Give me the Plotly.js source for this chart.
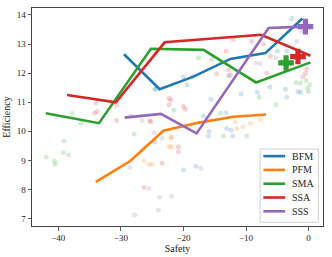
<!DOCTYPE html>
<html>
<head>
<meta charset="utf-8">
<script src="https://cdn.plot.ly/plotly-3.0.1.min.js"></script>
<style>html,body{margin:0;padding:0;background:#fff;}#chart{width:332px;height:257px;}</style>
</head>
<body>
<div id="chart"></div>
<script>
// Series names and colours
const seriesNames = ["BFM", "PFM", "SMA", "SSA", "SSS"];
const seriesColors = ["#1f77b4", "#ff7f0e", "#2ca02c", "#d62728", "#9467bd"];

// Main lines (Safety, Efficiency)
const bfmX = [-29.5, -23.8, -18.4, -12.5, -6.9, -1.0];
const bfmY = [12.65, 11.45, 11.88, 12.49, 12.69, 13.88];
const pfmX = [-34.0, -28.5, -23.2, -17.5, -12.0, -6.8];
const pfmY = [8.26, 8.98, 10.02, 10.3, 10.5, 10.58];
const smaX = [-42.0, -33.5, -25.2, -16.8, -8.4, 0.3];
const smaY = [10.62, 10.28, 12.84, 12.8, 11.68, 12.37];
const ssaX = [-38.6, -30.8, -23.0, -7.6, 0.3];
const ssaY = [11.25, 11.0, 13.06, 13.32, 12.6];
const sssX = [-29.4, -23.6, -17.9, -6.4, -0.5];
const sssY = [10.47, 10.6, 9.93, 13.55, 13.6];

// Plus markers (SMA, SSA, SSS)
const plusNames = ["SMA", "SSA", "SSS"];
const plusX = [-3.6, -1.7, -0.5];
const plusY = [12.35, 12.57, 13.6];

// Faint background samples
const bfmDotX = [-24.6, -24.4, -20.0, -18.5, -19.4, -15.6, -16.8, -13.2, -13.1, -12.4, -12.1, -16.0, -15.9, -10.8, -8.2, -6.2, -3.7, -3.5, -1.7, -1.3, -12.8, -20.0, -18.0, -2.7, -5.0, -3.5];
const bfmDotY = [11.45, 11.45, 11.88, 11.9, 11.6, 11.1, 10.53, 10.64, 10.1, 10.04, 9.84, 9.84, 9.99, 11.28, 11.34, 11.52, 11.45, 11.17, 11.37, 11.34, 11.9, 8.67, 8.8, 13.88, 12.76, 12.76];
const pfmDotX = [-26.3, -25.5, -25.0, -21.9, -22.3, -21.9, -9.3, -7.7, -10.5, -11.7, -11.5, -22.0];
const pfmDotY = [8.98, 8.87, 8.87, 9.79, 9.47, 9.47, 10.28, 10.41, 10.16, 10.33, 10.1, 9.79];
const smaDotX = [-37.8, -36.4, -39.1, -39.2, -38.4, -41.9, -40.6, -40.5, -27.9, -5.2, -7.9, -2.0, -1.3, 0.0, -0.2, -9.9, -14.1, -21.5, -13.6, -17.6, -15.5, -0.4, 0.2];
const smaDotY = [10.61, 10.28, 9.67, 9.26, 9.19, 9.12, 8.97, 8.87, 9.91, 10.91, 11.17, 11.68, 11.66, 11.37, 11.48, 9.84, 10.62, 10.73, 9.84, 12.53, 12.47, 11.75, 11.6];
const ssaDotX = [-34.0, -34.2, -33.8, -30.7, -30.7, -28.4, -25.4, -25.2, -22.3, -22.3, -24.6, -23.4, -26.3, -14.7, -12.8, -12.5, -6.7, -0.5, -0.3, -0.9, -19.7, -20.0, -22.0, -20.8, -20.8, -13.2, -9.1, -12.0, -7.2, -2.9, -6.1];
const ssaDotY = [10.97, 10.62, 10.68, 10.9, 10.37, 10.53, 10.37, 10.33, 11.14, 10.91, 9.64, 8.9, 8.07, 11.98, 12.11, 11.94, 12.0, 12.0, 12.14, 11.88, 10.76, 10.85, 11.08, 9.47, 9.3, 12.76, 13.1, 13.16, 12.99, 12.3, 12.59];
const sssDotX = [-28.6, -26.6, -25.5, -24.7, -23.4, -23.8, -24.0, -27.8, -21.9, -7.7, -17.2, -1.9, -1.06, -5.2, -8.4, -4.3];
const sssDotY = [8.76, 10.37, 8.03, 9.95, 9.76, 7.73, 7.29, 7.12, 7.77, 12.32, 8.72, 13.1, 13.45, 12.53, 12.35, 12.41];

const lineX = [bfmX, pfmX, smaX, ssaX, sssX];
const lineY = [bfmY, pfmY, smaY, ssaY, sssY];
const dotX = [bfmDotX, pfmDotX, smaDotX, ssaDotX, sssDotX];
const dotY = [bfmDotY, pfmDotY, smaDotY, ssaDotY, sssDotY];

const traces = [];
for (let i = 0; i < seriesNames.length; i++) {
  traces.push({
    x: dotX[i], y: dotY[i], type: "scatter", mode: "markers",
    marker: {color: seriesColors[i], size: 5, opacity: 0.2},
    showlegend: false, hoverinfo: "skip"
  });
}
for (let i = 0; i < seriesNames.length; i++) {
  traces.push({
    x: lineX[i], y: lineY[i], type: "scatter", mode: "lines",
    name: seriesNames[i], showlegend: false,
    line: {color: seriesColors[i], width: 2.6}
  });
}
for (let j = 0; j < plusNames.length; j++) {
  const c = seriesColors[seriesNames.indexOf(plusNames[j])];
  traces.push({
    x: [plusX[j]], y: [plusY[j]], type: "scatter", mode: "markers",
    marker: {symbol: "cross", size: 13, color: c, line: {width: 0}},
    showlegend: false
  });
}

// Compact legend (matplotlib-like), built in paper coordinates
const fam = "Liberation Serif, DejaVu Serif, serif";
const shapes = [{
  type: "rect", xref: "paper", yref: "paper",
  x0: 0.784, x1: 0.984, y0: 0.017, y1: 0.353,
  fillcolor: "rgba(255,255,255,0.85)", line: {color: "#d0d0d0", width: 1}, layer: "above"
}];
const annotations = [];
const legTop = 0.3206, legStep = 0.0633;
for (let i = 0; i < seriesNames.length; i++) {
  const yy = legTop - i * legStep;
  shapes.push({
    type: "line", xref: "paper", yref: "paper",
    x0: 0.795, x1: 0.870, y0: yy, y1: yy,
    line: {color: seriesColors[i], width: 2.6}, layer: "above"
  });
  annotations.push({
    xref: "paper", yref: "paper", x: 0.887, y: yy, xanchor: "left", yanchor: "middle",
    text: seriesNames[i], showarrow: false,
    font: {family: fam, size: 10, color: "#222"}
  });
}

const font = {family: fam, size: 9, color: "#222"};
const layout = {
  width: 332, height: 257,
  margin: {l: 32, r: 9.3, t: 8.3, b: 31.3},
  paper_bgcolor: "#fff", plot_bgcolor: "#fff",
  font: font,
  showlegend: false,
  shapes: shapes,
  annotations: annotations,
  xaxis: {
    range: [-44.2, 2.3], tickvals: [-40, -30, -20, -10, 0],
    ticks: "outside", ticklen: 3.5, tickwidth: 0.8, tickcolor: "#333",
    showline: true, linecolor: "#444", linewidth: 1, mirror: true,
    showgrid: false, zeroline: false,
    title: {text: "Safety", font: {family: fam, size: 10, color: "#222"}, standoff: 1}
  },
  yaxis: {
    range: [6.745, 14.24], tickvals: [7, 8, 9, 10, 11, 12, 13, 14],
    ticks: "outside", ticklen: 3.5, tickwidth: 0.8, tickcolor: "#333",
    showline: true, linecolor: "#444", linewidth: 1, mirror: true,
    showgrid: false, zeroline: false,
    title: {text: "Efficiency", font: {family: fam, size: 10, color: "#222"}, standoff: 4}
  }
};

Plotly.newPlot("chart", traces, layout, {staticPlot: true, displayModeBar: false});
</script>
</body>
</html>
